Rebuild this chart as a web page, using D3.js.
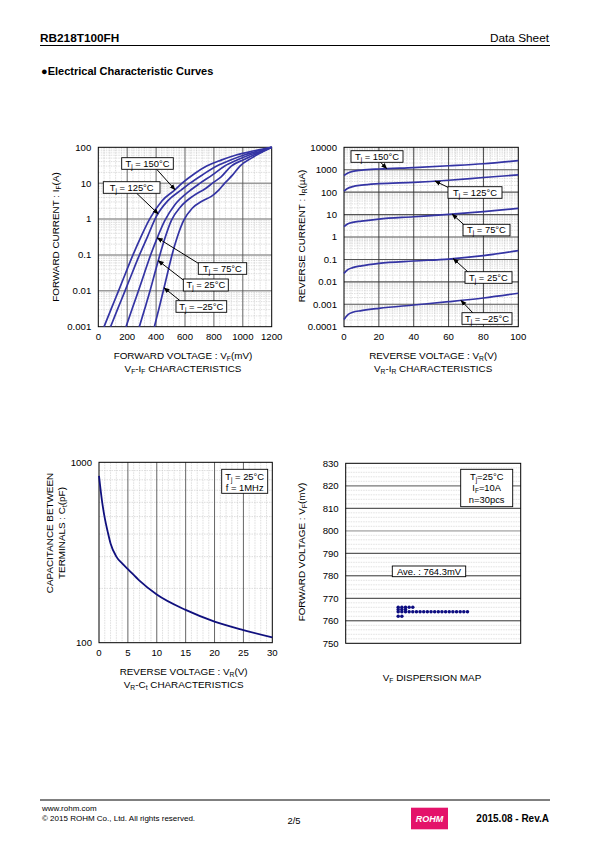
<!DOCTYPE html>
<html><head><meta charset="utf-8">
<script src="https://cdn.jsdelivr.net/npm/d3@7"></script>
<style>body{margin:0;background:#fff} svg{display:block} text{font-family:"Liberation Sans",Arial,sans-serif;fill:#000}</style>
</head><body><svg id="c" width="595" height="842"></svg>
<script>
// ---------------- DATA ----------------
// VF-IF characteristics: [VF (mV), IF (A)]
const vfif_150 = [[40,0.001],[90,0.0032],[140,0.01],[190,0.032],[240,0.1],[295,0.32],[355,1],[440,3.2],[530,6.5],[580,10],[670,19],[750,30],[850,44],[960,62],[1080,80],[1200,100]];
const vfif_125 = [[85,0.001],[135,0.0032],[185,0.01],[235,0.032],[285,0.1],[340,0.32],[400,1.15],[480,3.2],[575,6.5],[635,10],[720,17],[820,30],[920,45],[1020,63],[1110,80],[1200,100]];
const vfif_75  = [[192,0.001],[235,0.0032],[278,0.01],[320,0.032],[362,0.1],[408,0.3],[460,0.9],[530,2.5],[630,6],[705,10],[790,17],[875,30],[960,44],[1050,62],[1130,79],[1200,100]];
const vfif_25  = [[284,0.001],[322,0.0032],[358,0.01],[392,0.032],[426,0.1],[462,0.3],[505,0.9],[570,2.2],[660,4.5],[740,7],[790,10],[850,15],[920,30],[1010,46],[1110,70],[1200,100]];
const vfif_m25 = [[388,0.001],[420,0.0032],[450,0.01],[480,0.032],[510,0.1],[545,0.3],[590,0.9],[650,2],[720,3.2],[790,4.5],[835,6.5],[875,10],[930,17],[980,30],[1060,50],[1130,72],[1200,100]];
const vfifTemps = ["150","125","75","25","\u201325"];
const vfifTipV  = [531, 415, 408, 415, 455];
const vfifXTicks = [0,200,400,600,800,1000,1200];
const vfifYTicks = [0.001,0.01,0.1,1,10,100];
const vfifYLabels = ["0.001","0.01","0.1","1","10","100"];

// VR-IR characteristics: [VR (V), IR (uA)]
const vrir_150 = [[0,550],[2,700],[5,850],[10,950],[20,1080],[40,1250],[60,1500],[80,1850],[100,2550]];
const vrir_125 = [[0,112],[2,145],[5,176],[10,205],[20,240],[40,275],[60,340],[80,450],[100,590]];
const vrir_75  = [[0,2.9],[2,3.8],[5,4.5],[10,5.1],[20,6.3],[40,8],[60,10.2],[80,13.5],[100,19]];
const vrir_25  = [[0,0.024],[2,0.034],[5,0.043],[10,0.052],[20,0.067],[40,0.085],[60,0.104],[80,0.147],[100,0.245]];
const vrir_m25 = [[0,0.00021],[2,0.00033],[5,0.00044],[10,0.00052],[20,0.00066],[40,0.00093],[60,0.0013],[80,0.0019],[100,0.0031]];
const vrirTemps = ["150","125","75","25","\u201325"];
const vrirTipV  = [24.5, 52.2, 62.1, 62.7, 67.1];
const vrirXTicks = [0,20,40,60,80,100];
const vrirYTicks = [0.0001,0.001,0.01,0.1,1,10,100,1000,10000];
const vrirYLabels = ["0.0001","0.001","0.01","0.1","1","10","100","1000","10000"];

// VR-Ct characteristics: [VR (V), Ct (pF)]
const vrct = [[0,840],[0.5,617],[1,490],[1.5,413],[2,355],[3,300],[4,275],[5,256],[7,221],[10,185],[15,152],[20,131],[25,117.5],[30,107]];
const vrctXTicks = [0,5,10,15,20,25,30];
const vrctYTicks = [100,1000];

// VF dispersion (mV), n = 30
const vfDispersion = [766,766,766,766,766,765,765,765,764,764,764,764,764,764,764,764,764,764,764,764,764,764,764,764,764,764,764,764,762,762];
const dispYTicks = [750,760,770,780,790,800,810,820,830];
const dispAverage = "Ave. : 764.3mV";

// ---------------- DRAWING ----------------
const svg = d3.select("#c");
const CURVE_COL = "#3434a4";

function rich(sel, str, size) {
  const parts = str.split(/(_\{[^}]*\})/);
  let pend = 0;
  parts.forEach(p => {
    if (!p) return;
    if (p.startsWith("_{")) {
      sel.append("tspan").attr("font-size", size*0.68).attr("dy", size*0.22 + pend).text(p.slice(2,-1));
      pend = -size*0.22;
    } else {
      sel.append("tspan").attr("dy", pend).text(p);
      pend = 0;
    }
  });
  return sel;
}
function txt(x, y, str, size, anchor="middle", weight="normal") {
  const t = svg.append("text").attr("x", x).attr("y", y).attr("font-size", size)
    .attr("text-anchor", anchor).attr("font-weight", weight);
  return rich(t, str, size);
}
function vtxt(x, y, str, size) {
  const t = svg.append("text").attr("transform", `translate(${x},${y}) rotate(-90)`)
    .attr("font-size", size).attr("text-anchor", "middle");
  return rich(t, str, size);
}
svg.append("defs").append("marker").attr("id","ah").attr("viewBox","0 0 10 10")
  .attr("refX",9).attr("refY",5).attr("markerWidth",6).attr("markerHeight",6)
  .attr("orient","auto").attr("markerUnits","userSpaceOnUse")
  .append("path").attr("d","M0,1 L10,5 L0,9 z").attr("fill","#000");

function gline(g, x1,y1,x2,y2, col, w, dash) {
  g.append("line").attr("x1",x1).attr("y1",y1).attr("x2",x2).attr("y2",y2)
   .attr("stroke",col).attr("stroke-width",w).attr("stroke-dasharray",dash||null);
}
function logMinors(lo, hi) {
  const out = [];
  for (let d = lo; d < hi*0.99; d *= 10) for (let k = 2; k <= 9; k++) out.push(d*k);
  return out;
}
function interpLog(curve, v) {
  for (let i = 0; i < curve.length-1; i++) {
    const [a, ia] = curve[i], [b, ib] = curve[i+1];
    if (v >= a && v <= b) {
      const t = (v-a)/(b-a);
      return Math.pow(10, Math.log10(ia) + t*(Math.log10(ib)-Math.log10(ia)));
    }
  }
  return curve[curve.length-1][1];
}
function labelBox(x0, y0, x1, y1, temp, size) {
  svg.append("rect").attr("x",x0).attr("y",y0).attr("width",x1-x0).attr("height",y1-y0)
    .attr("fill","#fff").attr("stroke","#000").attr("stroke-width",0.9);
  txt((x0+x1)/2, (y0+y1)/2 + size*0.33, "T_{j} = " + temp + "\u00B0C", size);
}
function arrow(x1,y1,x2,y2) {
  svg.append("line").attr("x1",x1).attr("y1",y1).attr("x2",x2).attr("y2",y2)
    .attr("stroke","#000").attr("stroke-width",1).attr("marker-end","url(#ah)");
}
function border(x0,y0,x1,y1) {
  svg.append("rect").attr("x",x0).attr("y",y0).attr("width",x1-x0).attr("height",y1-y0)
    .attr("fill","none").attr("stroke","#000").attr("stroke-width",1);
}

const TICK = 9.6, TITLE = 9.9, LBL = 9.4;

// ---- Header ----
txt(40, 42, "RB218T100FH", 11.8, "start", "bold");
txt(549, 42, "Data Sheet", 11.8, "end");
gline(svg, 40, 45.5, 550, 45.5, "#000", 1);
txt(41, 75, "\u25CFElectrical Characteristic Curves", 11, "start", "bold");

// ---- Chart 1: VF-IF ----
{
  const L=98.3,R=271.7,T=147.3,B=326.7;
  const x = d3.scaleLinear().domain([0,1200]).range([L,R]);
  const y = d3.scaleLog().domain([0.001,100]).range([B,T]);
  const g = svg.append("g");
  d3.range(40,1200,40).filter(v=>v%200!==0).forEach(v=>gline(g,x(v),T,x(v),B,"#c8c8c8",0.6,"1.5,1"));
  logMinors(0.001,100).forEach(v=>gline(g,L,y(v),R,y(v),"#c8c8c8",0.6,"1.5,1"));
  vfifYTicks.slice(1,-1).forEach(v=>gline(g,L,y(v),R,y(v),"#9a9a9a",1.6));
  vfifXTicks.slice(1,-1).forEach(v=>gline(g,x(v),T,x(v),B,"#555",0.9));
  border(L,T,R,B);
  const line = d3.line().x(d=>x(d[0])).y(d=>y(d[1])).curve(d3.curveMonotoneX);
  const curves = [vfif_150,vfif_125,vfif_75,vfif_25,vfif_m25];
  curves.forEach(c=>svg.append("path").attr("d",line(c)).attr("fill","none").attr("stroke",CURVE_COL).attr("stroke-width",1.7));
  vfifXTicks.forEach(v=>txt(x(v), B+13.5, String(v), TICK));
  vfifYTicks.forEach((v,i)=>txt(L-7, y(v)+3.4, vfifYLabels[i], TICK, "end"));
  txt((L+R)/2-2, 358.5, "FORWARD VOLTAGE : V_{F}(mV)", TITLE);
  txt((L+R)/2-2, 371.5, "V_{F}-I_{F} CHARACTERISTICS", TITLE);
  vtxt(58.5, 237, "FORWARD CURRENT : I_{F}(A)", TITLE);
  const boxes = [[121.7,157.7,173.3,169.3,156.7,169.3],[103.3,181.7,160,193.3,136.7,193.3],
                 [198.3,262.7,246.7,274.3,198.3,263.3],[183.3,279,228.3,291,183.3,280],[176,300.7,226.7,312.3,180,300.7]];
  boxes.forEach((b,i)=>{
    const tv = vfifTipV[i];
    arrow(b[4],b[5],x(tv),y(interpLog(curves[i],tv)));
  });
  boxes.forEach((b,i)=>labelBox(b[0],b[1],b[2],b[3],vfifTemps[i],LBL));
}

// ---- Chart 2: VR-IR ----
{
  const L=344,R=518.3,T=147.3,B=326.7;
  const x = d3.scaleLinear().domain([0,100]).range([L,R]);
  const y = d3.scaleLog().domain([0.0001,10000]).range([B,T]);
  const g = svg.append("g");
  d3.range(4,100,4).filter(v=>v%20!==0).forEach(v=>gline(g,x(v),T,x(v),B,"#c8c8c8",0.6,"1.5,1"));
  logMinors(0.0001,10000).forEach(v=>gline(g,L,y(v),R,y(v),"#c8c8c8",0.6,"1.5,1"));
  vrirYTicks.slice(1,-1).forEach(v=>gline(g,L,y(v),R,y(v),"#555",1.1));
  vrirXTicks.slice(1,-1).forEach(v=>gline(g,x(v),T,x(v),B,"#333",0.9));
  border(L,T,R,B);
  const line = d3.line().x(d=>x(d[0])).y(d=>y(d[1])).curve(d3.curveMonotoneX);
  const curves = [vrir_150,vrir_125,vrir_75,vrir_25,vrir_m25];
  curves.forEach(c=>svg.append("path").attr("d",line(c)).attr("fill","none").attr("stroke",CURVE_COL).attr("stroke-width",1.7));
  vrirXTicks.forEach(v=>txt(x(v), B+13.5, String(v), TICK));
  vrirYTicks.forEach((v,i)=>txt(L-7, y(v)+3.4, vrirYLabels[i], TICK, "end"));
  txt((L+R)/2+2, 358.5, "REVERSE VOLTAGE : V_{R}(V)", TITLE);
  txt((L+R)/2+2, 371.5, "V_{R}-I_{R} CHARACTERISTICS", TITLE);
  vtxt(304.5, 236, "REVERSE CURRENT : I_{R}(\u00B5A)", TITLE);
  const boxes = [[351,150.7,403,162.3,380,161.7],[448,186.7,502,198.3,450,188.3],[463,224.3,510,235.9,465,225.7],
                 [465,271.7,512,283.3,468.3,272.3],[462,312.7,512,324.3,473.3,313.3]];
  boxes.forEach((b,i)=>{
    const tv = vrirTipV[i];
    arrow(b[4],b[5],x(tv),y(interpLog(curves[i],tv)));
  });
  boxes.forEach((b,i)=>labelBox(b[0],b[1],b[2],b[3],vrirTemps[i],LBL));
}

// ---- Chart 3: VR-Ct ----
{
  const L=99,R=272.3,T=462.3,B=642.7;
  const x = d3.scaleLinear().domain([0,30]).range([L,R]);
  const y = d3.scaleLog().domain([100,1000]).range([B,T]);
  const g = svg.append("g");
  d3.range(1,30,1).filter(v=>v%5!==0).forEach(v=>gline(g,x(v),T,x(v),B,"#c8c8c8",0.6,"1.5,1"));
  logMinors(100,1000).forEach(v=>gline(g,L,y(v),R,y(v),"#c8c8c8",0.6,"1.5,1"));
  vrctXTicks.slice(1,-1).forEach(v=>gline(g,x(v),T,x(v),B,"#555",0.9));
  border(L,T,R,B);
  const line = d3.line().x(d=>x(d[0])).y(d=>y(d[1])).curve(d3.curveMonotoneX);
  svg.append("path").attr("d",line(vrct)).attr("fill","none").attr("stroke","#10107e").attr("stroke-width",1.8);
  vrctXTicks.forEach(v=>txt(x(v), B+13.5, String(v), TICK));
  vrctYTicks.forEach(v=>txt(L-7, y(v)+3.4, String(v), TICK, "end"));
  txt((L+R)/2-2, 674.5, "REVERSE VOLTAGE : V_{R}(V)", TITLE);
  txt((L+R)/2-2, 687.5, "V_{R}-C_{t} CHARACTERISTICS", TITLE);
  vtxt(52.5, 533, "CAPACITANCE BETWEEN", TITLE);
  vtxt(64.5, 533, "TERMINALS : C_{t}(pF)", TITLE);
  svg.append("rect").attr("x",221.7).attr("y",469.3).attr("width",46).attr("height",24)
    .attr("fill","#fff").attr("stroke","#000").attr("stroke-width",0.9);
  txt(244.7, 479.8, "T_{j} = 25\u00B0C", LBL);
  txt(244.7, 491, "f = 1MHz", LBL);
}

// ---- Chart 4: VF dispersion ----
{
  const L=345.7,R=520.7,T=463.3,B=643.3;
  const x = d3.scaleLinear().domain([0,48]).range([L,R]);
  const y = d3.scaleLinear().domain([750,830]).range([B,T]);
  const g = svg.append("g");
  d3.range(752,830,2).filter(v=>v%10!==0).forEach(v=>gline(g,L,y(v),R,y(v),"#cfcfcf",0.6,"1.5,1"));
  dispYTicks.slice(1,-1).forEach(v=>{
    if (v===800) gline(g,L,y(v),R,y(v),"#bdbdbd",1.8);
    else if (v===820) gline(g,L,y(v),R,y(v),"#777",1.2);
    else gline(g,L,y(v),R,y(v),"#333",1);
  });
  border(L,T,R,B);
  const counts = {};
  const pts = vfDispersion.map(v=>{ counts[v]=(counts[v]||0); const i=counts[v]++; return [14.4+i, v]; });
  svg.append("g").selectAll("circle").data(pts).join("circle")
    .attr("cx",d=>x(d[0])).attr("cy",d=>y(d[1])).attr("r",1.75).attr("fill","#0d0d80");
  dispYTicks.forEach(v=>txt(L-7, y(v)+3.4, String(v), TICK, "end"));
  txt(432, 681, "V_{F} DISPERSION MAP", TITLE);
  vtxt(305, 552, "FORWARD VOLTAGE : V_{F}(mV)", TITLE);
  svg.append("rect").attr("x",460.7).attr("y",469.3).attr("width",52).attr("height",37.4)
    .attr("fill","#fff").attr("stroke","#000").attr("stroke-width",0.9);
  txt(486.7, 479.8, "T_{j}=25\u00B0C", LBL);
  txt(486.7, 491.3, "I_{F}=10A", LBL);
  txt(486.7, 502.8, "n=30pcs", LBL);
  svg.append("rect").attr("x",392.3).attr("y",566).attr("width",73.4).attr("height",10.7)
    .attr("fill","#fff").attr("stroke","#000").attr("stroke-width",0.9);
  txt(429, 574.8, dispAverage, LBL);
}

// ---- Footer ----
gline(svg, 40, 800, 550, 800, "#000", 1);
txt(42, 810.5, "www.rohm.com", 8, "start");
txt(42, 820.5, "\u00A9 2015  ROHM Co., Ltd. All rights reserved.", 8, "start");
txt(294, 823.5, "2/5", 9.4);
svg.append("rect").attr("x",411).attr("y",807.7).attr("width",37).attr("height",21.6).attr("fill","#e4126a");
txt(429.5, 822, "ROHM", 9, "middle", "bold").attr("fill","#fff").style("fill","#fff").attr("font-style","italic");
txt(549, 822, "2015.08 -  Rev.A", 10, "end", "bold");
</script></body></html>
